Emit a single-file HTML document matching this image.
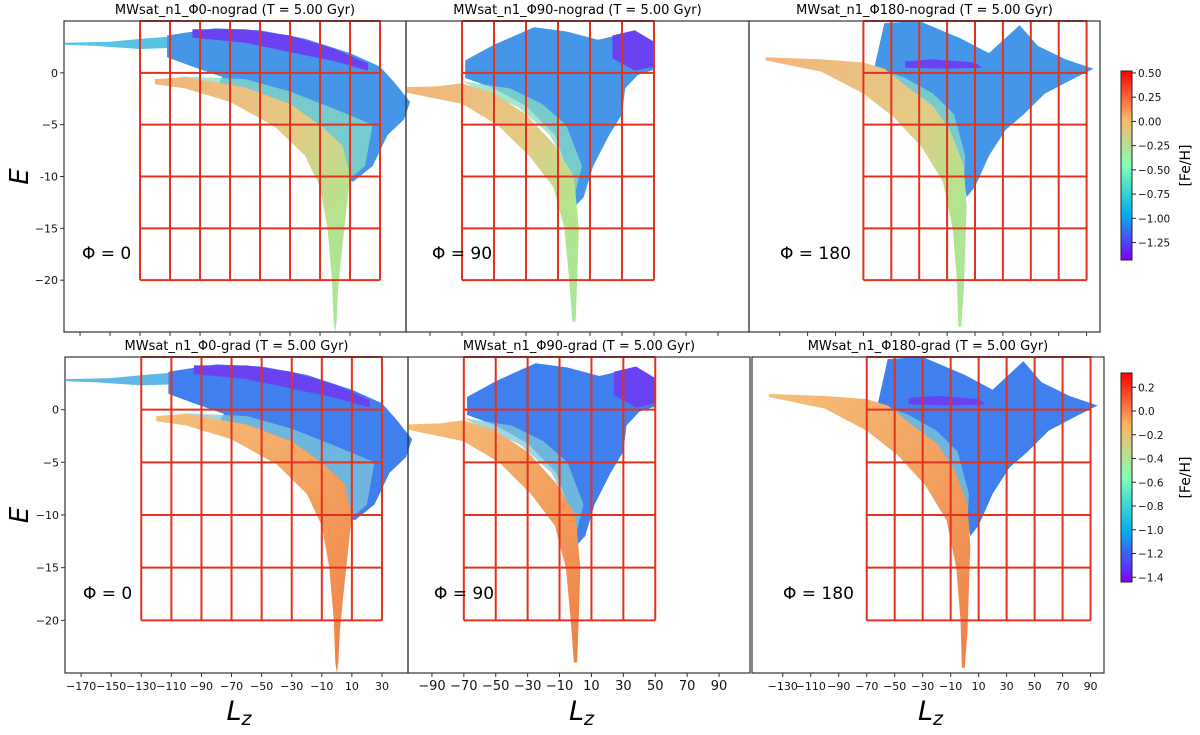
<!DOCTYPE html>
<html><head><meta charset="utf-8"><style>
body{margin:0;background:#fff;}
svg text{font-family:"DejaVu Sans","Liberation Sans",sans-serif;}
</style></head><body>
<svg id="fig" width="1200" height="730" viewBox="0 0 1200 730" xmlns="http://www.w3.org/2000/svg">
<defs>
<linearGradient id="wedgeTop" x1="0" y1="0" x2="1" y2="1"><stop offset="0" stop-color="#f3b47a"/><stop offset="0.45" stop-color="#e6c985"/><stop offset="0.75" stop-color="#b3e48f"/><stop offset="1" stop-color="#a8e69a"/></linearGradient>
<linearGradient id="wedgeBot" x1="0" y1="0" x2="1" y2="1"><stop offset="0" stop-color="#f5c07a"/><stop offset="0.5" stop-color="#f4a462"/><stop offset="1" stop-color="#ef7f45"/></linearGradient>
<linearGradient id="cbar" x1="0" y1="1" x2="0" y2="0"><stop offset="0" stop-color="#8000ff"/><stop offset="0.25" stop-color="#00b4eb"/><stop offset="0.5" stop-color="#80ffb4"/><stop offset="0.75" stop-color="#ffb462"/><stop offset="1" stop-color="#ff0000"/></linearGradient>
</defs>
</svg>
<script>
// ----- data arrays -----
const panelTitles = ["MWsat_n1_Φ0-nograd (T = 5.00 Gyr)","MWsat_n1_Φ90-nograd (T = 5.00 Gyr)","MWsat_n1_Φ180-nograd (T = 5.00 Gyr)","MWsat_n1_Φ0-grad (T = 5.00 Gyr)","MWsat_n1_Φ90-grad (T = 5.00 Gyr)","MWsat_n1_Φ180-grad (T = 5.00 Gyr)"];
const phiLabels = ["Φ = 0","Φ = 90","Φ = 180"];
const xLims = [[-180.7,47.3],[-105,109.4],[-152,99.6]];
const eLim = [-25,5];
const xTicksA = [-170,-150,-130,-110,-90,-70,-50,-30,-10,10,30];
const xTicksB = [-90,-70,-50,-30,-10,10,30,50,70,90];
const xTicksC = [-130,-110,-90,-70,-50,-30,-10,10,30,50,70,90];
const eTicks = [0,-5,-10,-15,-20];
const gridXA = [-130,-110,-90,-70,-50,-30,-10,10,30];
const gridXB = [-70,-50,-30,-10,10,30,50];
const gridXC = [-70,-50,-30,-10,10,30,50,70,90];
const gridE = [5,0,-5,-10,-15,-20];
const cbTicksTop = [0.5,0.25,0,-0.25,-0.5,-0.75,-1,-1.25];
const cbRangeTop = [-1.43,0.52];
const cbTicksBot = [0.2,0,-0.2,-0.4,-0.6,-0.8,-1,-1.2,-1.4];
const cbRangeBot = [-1.44,0.32];
// shapes (Lz, E)
const streamA = [[-180,2.9],[-150,3.0],[-128,3.3],[-110,3.5],[-110,2.4],[-130,2.3],[-160,2.6],[-180,2.7]];
const haloA = [[-112,3.6],[-80,4.3],[-50,4.1],[-20,3.3],[10,1.9],[30,0.6],[40,-1],[50,-2.8],[46,-4.5],[35,-6],[25,-9],[12,-10.5],[2,-10],[-20,-5.6],[-50,-3],[-80,-1.5],[-75,-0.4],[-95,0.6],[-112,1.5]];
const purpleA = [[-95,4.2],[-60,4.2],[-30,3.6],[0,2.3],[22,0.9],[22,0.2],[0,1.1],[-30,2.0],[-60,2.9],[-95,3.4]];
const mixA = [[-110,-0.3],[-60,-0.6],[-30,-1.8],[0,-3.5],[25,-5],[20,-9],[8,-10.5],[5,-7],[-10,-5],[-30,-3],[-60,-1.4],[-100,-0.4]];
const wedgeA = [[-120,-0.6],[-100,-0.4],[-60,-1.4],[-30,-3],[-10,-5],[5,-7],[10,-10],[7,-14],[4,-18],[2,-21],[1,-24],[0,-25],[-1,-24],[-2,-20],[-5,-15],[-10,-11],[-20,-8],[-40,-5.2],[-70,-2.8],[-100,-1.5],[-120,-1.1]];
const haloB = [[-68,1.2],[-50,2.7],[-25,4.4],[-5,4.0],[15,3.2],[35,3.9],[50,2.8],[50,0.3],[40,-0.2],[32,-1.5],[30,-4],[22,-6],[12,-9],[6,-12],[0,-13],[-5,-9],[-12,-6],[-30,-3.2],[-50,-1.5],[-68,-0.5]];
const purpleB = [[24,3.6],[38,4.1],[50,3.0],[50,0.6],[38,0.2],[24,1.4]];
const mixB = [[-70,-0.8],[-40,-1.5],[-20,-3],[-5,-5],[5,-9],[0,-12],[-5,-9],[-15,-6],[-35,-3.3],[-60,-1.6]];
const wedgeB = [[-105,-1.4],[-85,-1.3],[-70,-1.0],[-50,-2.0],[-30,-4],[-12,-7],[0,-10],[3,-15],[2,-20],[1,-24],[-1,-24],[-3,-20],[-6,-15],[-13,-11],[-28,-8],[-48,-5],[-70,-3],[-105,-1.9]];
const haloC = [[-62,0.6],[-55,4.8],[-30,5.0],[0,3.3],[20,1.9],[42,4.6],[55,2.6],[75,1.3],[95,0.4],[80,-0.6],[60,-2],[45,-4],[32,-5.5],[20,-8],[10,-11],[4,-12],[0,-9],[-10,-5.5],[-30,-3],[-50,-1.2],[-62,0]];
const purpleC = [[-40,1.1],[-20,1.3],[10,1.0],[15,0.5],[-10,0.4],[-40,0.5]];
const mixC = [[-60,0.5],[-40,-0.5],[-20,-2],[-5,-4],[3,-8],[2,-11],[-5,-8],[-15,-5],[-35,-2.8],[-55,-1]];
const wedgeC = [[-140,1.5],[-100,1.3],[-70,1.0],[-55,0.4],[-40,-1.2],[-20,-3.2],[-8,-5.5],[2,-9],[4,-13],[3,-17],[2,-21],[0,-24.5],[-2,-24.5],[-3,-20],[-6,-15],[-13,-10.5],[-28,-7.2],[-48,-4.3],[-70,-2],[-100,0.1],[-140,1.2]];

const svg = document.getElementById('fig');
const NS = 'http://www.w3.org/2000/svg';
function mk(tag, attrs, parent){const e=document.createElementNS(NS,tag);for(const k in attrs)e.setAttribute(k,attrs[k]);(parent||svg).appendChild(e);return e;}

const panels = [
 {px:[64,406],py:[21,332],xl:xLims[0],ticks:xTicksA,grid:gridXA,row:0,col:0},
 {px:[406,749],py:[21,332],xl:xLims[1],ticks:xTicksB,grid:gridXB,row:0,col:1},
 {px:[749,1100],py:[21,332],xl:xLims[2],ticks:xTicksC,grid:gridXC,row:0,col:2},
 {px:[65,408],py:[357,673],xl:xLims[0],ticks:xTicksA,grid:gridXA,row:1,col:0},
 {px:[408,750],py:[357,673],xl:xLims[1],ticks:xTicksB,grid:gridXB,row:1,col:1},
 {px:[752,1104],py:[357,673],xl:xLims[2],ticks:xTicksC,grid:gridXC,row:1,col:2}
];
const shapeSets = [[streamA,haloA,purpleA,mixA,wedgeA],[null,haloB,purpleB,mixB,wedgeB],[null,haloC,purpleC,mixC,wedgeC]];

panels.forEach((p,i)=>{
  const sx=v=>p.px[0]+(v-p.xl[0])/(p.xl[1]-p.xl[0])*(p.px[1]-p.px[0]);
  const sy=e=>p.py[1]-(e-eLim[0])/(eLim[1]-eLim[0])*(p.py[1]-p.py[0]);
  const g=mk('g',{});
  
  
  const pts=a=>a.map(q=>sx(q[0]).toFixed(1)+','+sy(q[1]).toFixed(1)).join(' ');
  const [st,ha,pu,mx,we]=shapeSets[p.col];
  const grad=p.row===1;
  if(st){const s=mk('polygon',{points:pts(st),fill:grad?'#5fb8e8':'#58c4e4'},g);}
  const h=mk('polygon',{points:pts(ha),fill:grad?'#3f7fee':'#4596e8'},g);
  
  
  const m=mk('polygon',{points:pts(mx),fill:grad?'#7fc8d8':'#8adcc4','fill-opacity':0.75},g);
  
  
  const pp=mk('polygon',{points:pts(pu),fill:'#6a42f2'},g);
  
  
  const w=mk('polygon',{points:pts(we),fill:grad?'url(#wedgeBot)':'url(#wedgeTop)'},g);
  
  
  const gx0=sx(p.grid[0]),gx1=sx(p.grid[p.grid.length-1]);
  p.grid.forEach(v=>{const l=mk('line',{x1:sx(v),x2:sx(v),y1:sy(gridE[0]),y2:sy(gridE[gridE.length-1]),stroke:'#e2321f','stroke-width':2},g);});
  gridE.forEach(e=>{const l=mk('line',{x1:gx0,x2:gx1,y1:sy(e),y2:sy(e),stroke:'#e2321f','stroke-width':2},g);});
  const f=mk('rect',{x:p.px[0],y:p.py[0],width:p.px[1]-p.px[0],height:p.py[1]-p.py[0],fill:'none',stroke:'#333','stroke-width':1.2},g);
  
  
  p.ticks.forEach(v=>{
    const x=sx(v);
    mk('line',{x1:x,x2:x,y1:p.py[1],y2:p.py[1]+4,stroke:'#333','stroke-width':1},g);
    if(p.row===1){const t=mk('text',{x:x,y:p.py[1]+17,'text-anchor':'middle','font-size':p.col===1?13:11,fill:'#111'},g);t.textContent=(v<0?'\u2212'+(-v):v);}
  });
  if(p.col===0){eTicks.forEach(e=>{const y=sy(e);mk('line',{x1:p.px[0]-4,x2:p.px[0],y1:y,y2:y,stroke:'#333'},g);const t=mk('text',{x:p.px[0]-6,y:y+4,'text-anchor':'end','font-size':11,fill:'#111'},g);t.textContent=(e<0?(p.row===0&&e===-10?'-10':'\u2212'+(-e)):e);});
    const yl=mk('text',{x:28,y:(p.py[0]+p.py[1])/2,'font-size':26,'font-style':'italic','text-anchor':'middle',transform:`rotate(-90 28 ${(p.py[0]+p.py[1])/2})`,fill:'#000'},g);yl.textContent='E';}
  const tt=mk('text',{x:(p.px[0]+p.px[1])/2,y:p.py[0]-7,'text-anchor':'middle','font-size':13,fill:'#000'},g);
  tt.textContent=panelTitles[i];
  
  
  const ph=mk('text',{x:p.px[0]+[18,26,31][p.col],y:p.py[0]+238+(p.row?4:0),'font-size':17,fill:'#000'},g);
  ph.textContent=phiLabels[p.col];
  
  
  if(p.row===1){const xl=mk('text',{x:(p.px[0]+p.px[1])/2-10,y:720,'font-size':27,'font-style':'italic',fill:'#000'},g);xl.innerHTML='L<tspan font-size="19" dy="5">z</tspan>';}
});

function colorbar(y0,y1,range,ticks,fmt,name){
  const g=mk('g',{});
  
  
  mk('rect',{x:1121,y:y0,width:11,height:y1-y0,fill:'url(#cbar)',stroke:'#222','stroke-width':1},g);
  const sc=v=>y1-(v-range[0])/(range[1]-range[0])*(y1-y0);
  ticks.forEach(v=>{const y=sc(v);mk('line',{x1:1132,x2:1136,y1:y,y2:y,stroke:'#222'},g);const t=mk('text',{x:1138,y:y+4,'font-size':10.5,fill:'#111'},g);t.textContent=(v<0?'\u2212':'')+fmt(Math.abs(v));});
  const cy=(y0+y1)/2;
  const l=mk('text',{x:1190,y:cy,'font-size':14,'text-anchor':'middle',transform:`rotate(-90 1190 ${cy})`,fill:'#000'},g);
  l.textContent='[Fe/H]';
  
  
}
colorbar(71,260,cbRangeTop,cbTicksTop,v=>v.toFixed(2),'colorbar-top');
colorbar(373,582,cbRangeBot,cbTicksBot,v=>v.toFixed(1),'colorbar-bottom');
</script>
</body></html>
